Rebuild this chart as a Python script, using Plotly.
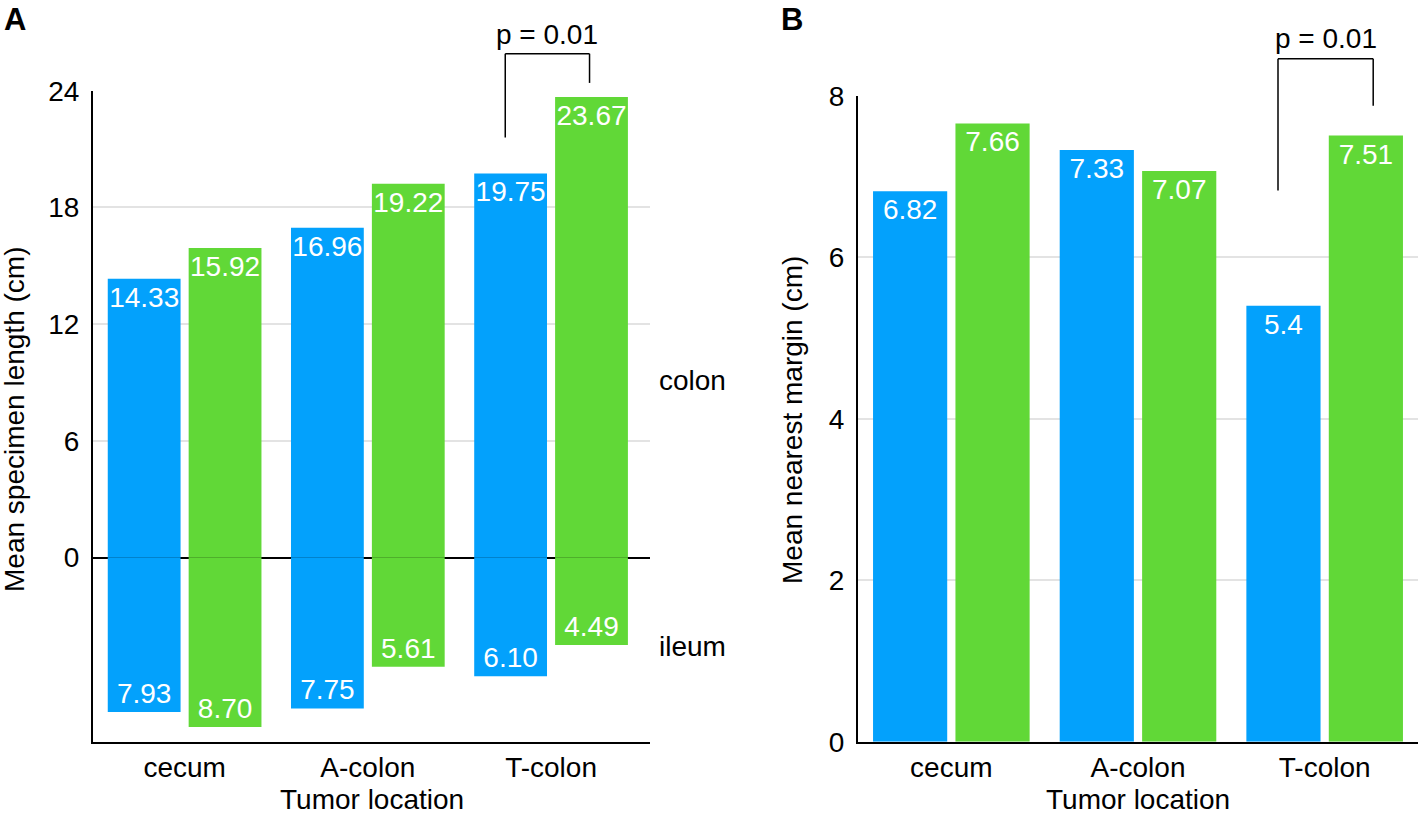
import plotly.graph_objects as go

categories = ['cecum', 'A-colon', 'T-colon']

# panel A: mean specimen length (cm), colon part above 0, ileum part below
colon_blue = [14.33, 16.96, 19.75]
colon_green = [15.92, 19.22, 23.67]
ileum_blue = [7.93, 7.75, 6.10]
ileum_green = [8.70, 5.61, 4.49]

# panel B: mean nearest margin (cm)
margin_blue = [6.82, 7.33, 5.4]
margin_green = [7.66, 7.07, 7.51]

ticks_a = [0, 6, 12, 18, 24]
ticks_b = [0, 2, 4, 6, 8]

BLUE = '#03A1FC'
GREEN = '#61D837'
FONT = 'Liberation Sans, Arial, sans-serif'
W, H = 1418, 818

range_a = [-9.46, 24]
range_b = [0, 8]
ydom = [1 - 741.7 / H, 1 - 90.7 / H]
ydom_b = [1 - 741.7 / H, 1 - 96 / H]


def to_paper(v, rng, dom):
    return dom[0] + (v - rng[0]) / (rng[1] - rng[0]) * (dom[1] - dom[0])


fig = go.Figure()

bar_style = dict(textposition='inside', insidetextanchor='end', textangle=0,
                 constraintext='none', cliponaxis=False,
                 textfont=dict(color='white', size=28, family=FONT),
                 showlegend=False, hoverinfo='skip')

# panel A: one trace per colour, colon values up and ileum values down
fig.add_trace(go.Bar(x=categories * 2, y=colon_blue + [-v for v in ileum_blue],
                     text=['%.2f' % v for v in colon_blue + ileum_blue],
                     marker=dict(color=BLUE, line=dict(width=0)),
                     xaxis='x', yaxis='y', **bar_style))
fig.add_trace(go.Bar(x=categories * 2, y=colon_green + [-v for v in ileum_green],
                     text=['%.2f' % v for v in colon_green + ileum_green],
                     marker=dict(color=GREEN, line=dict(width=0)),
                     xaxis='x', yaxis='y', **bar_style))

# panel B
fig.add_trace(go.Bar(x=categories, y=margin_blue, text=[str(v) for v in margin_blue],
                     marker=dict(color=BLUE, line=dict(width=0)),
                     xaxis='x2', yaxis='y2', **bar_style))
fig.add_trace(go.Bar(x=categories, y=margin_green, text=[str(v) for v in margin_green],
                     marker=dict(color=GREEN, line=dict(width=0)),
                     xaxis='x2', yaxis='y2', **bar_style))

xstyle = dict(showline=True, linecolor='black', linewidth=2, ticks='', automargin=False,
              tickfont=dict(size=28, family=FONT, color='black'),
              ticklabelstandoff=0, showgrid=False, zeroline=False)
ystyle = dict(showline=True, linecolor='black', linewidth=2, ticks='', automargin=False,
              tickfont=dict(size=28, family=FONT, color='black'),
              ticklabelstandoff=6, showgrid=True, gridcolor='#e3e3e3', gridwidth=2)

fig.update_layout(
    width=W, height=H, autosize=False,
    margin=dict(l=0, r=0, t=0, b=0, pad=0, autoexpand=False),
    paper_bgcolor='white', plot_bgcolor='white',
    barmode='group', bargap=0.117, bargroupgap=0.1,
    font=dict(family=FONT, size=28, color='black'),
    xaxis=dict(domain=[93 / W, 650 / W], range=[-0.5, 2.54], anchor='y', **xstyle),
    yaxis=dict(domain=ydom, range=range_a, tickvals=ticks_a, anchor='x',
               zeroline=True, zerolinecolor='black', zerolinewidth=1.5, **ystyle),
    xaxis2=dict(domain=[858 / W, 1.0], anchor='y2', **xstyle),
    yaxis2=dict(domain=ydom_b, range=range_b, tickvals=ticks_b, anchor='x2',
                zeroline=False, **ystyle),
)

ann = []
txt = dict(size=28, family=FONT, color='black')
ann.append(dict(text='<b>A</b>', x=2 / W, y=1, xref='paper', yref='paper',
                xanchor='left', yanchor='top', showarrow=False,
                font=dict(size=31, family=FONT, color='black')))
ann.append(dict(text='<b>B</b>', x=779 / W, y=1, xref='paper', yref='paper',
                xanchor='left', yanchor='top', showarrow=False,
                font=dict(size=31, family=FONT, color='black')))
ann.append(dict(text='Mean specimen length (cm)', x=14 / W, y=1 - 420 / H,
                xref='paper', yref='paper', textangle=-90, showarrow=False,
                xanchor='center', yanchor='middle', font=txt))
ann.append(dict(text='Mean nearest margin (cm)', x=792 / W, y=1 - 420 / H,
                xref='paper', yref='paper', textangle=-90, showarrow=False,
                xanchor='center', yanchor='middle', font=txt))
ann.append(dict(text='Tumor location', x=0.5, y=1 - 799 / H, xref='x domain', borderpad=0,
                yref='paper', showarrow=False, xanchor='center', yanchor='middle', font=txt))
ann.append(dict(text='Tumor location', x=0.5, y=1 - 799 / H, xref='x2 domain', borderpad=0,
                yref='paper', showarrow=False, xanchor='center', yanchor='middle', font=txt))
ann.append(dict(text='colon', x=657 / W, y=9.1, xref='paper', yref='y',
                showarrow=False, xanchor='left', yanchor='middle', font=txt))
ann.append(dict(text='ileum', x=657 / W, y=-4.55, xref='paper', yref='y',
                showarrow=False, xanchor='left', yanchor='middle', font=txt))

# significance brackets between the T-colon bars
brackets = [
    # xref, y range, y domain, left/right leg offsets, top, left bottom, right bottom, text y (px)
    ('x', range_a, ydom, -0.25, 0.21, 25.9, 21.6, 24.4, 34),
    ('x2', range_b, ydom_b, -0.25, 0.26, 8.46, 6.83, 7.88, 38),
]
shapes = []
for xr, rng, dom, dl, dr, top, lb, rb, ty in brackets:
    x0, x1 = 2 + dl, 2 + dr
    yt = to_paper(top, rng, dom)
    yl = to_paper(lb, rng, dom)
    yr = to_paper(rb, rng, dom)
    line = dict(color='black', width=1.5)
    shapes.append(dict(type='line', xref=xr, yref='paper', x0=x0, x1=x0, y0=yl, y1=yt, line=line))
    shapes.append(dict(type='line', xref=xr, yref='paper', x0=x0, x1=x1, y0=yt, y1=yt, line=line))
    shapes.append(dict(type='line', xref=xr, yref='paper', x0=x1, x1=x1, y0=yr, y1=yt, line=line))
    ann.append(dict(text='p = 0.01', x=(x0 + x1) / 2, y=1 - ty / H, xref=xr, yref='paper',
                    showarrow=False, xanchor='center', yanchor='middle', font=txt))

fig.update_layout(annotations=ann, shapes=shapes)

fig.write_html('out.html', config={'displayModeBar': False},
               post_script="document.body.style.margin='0';")
